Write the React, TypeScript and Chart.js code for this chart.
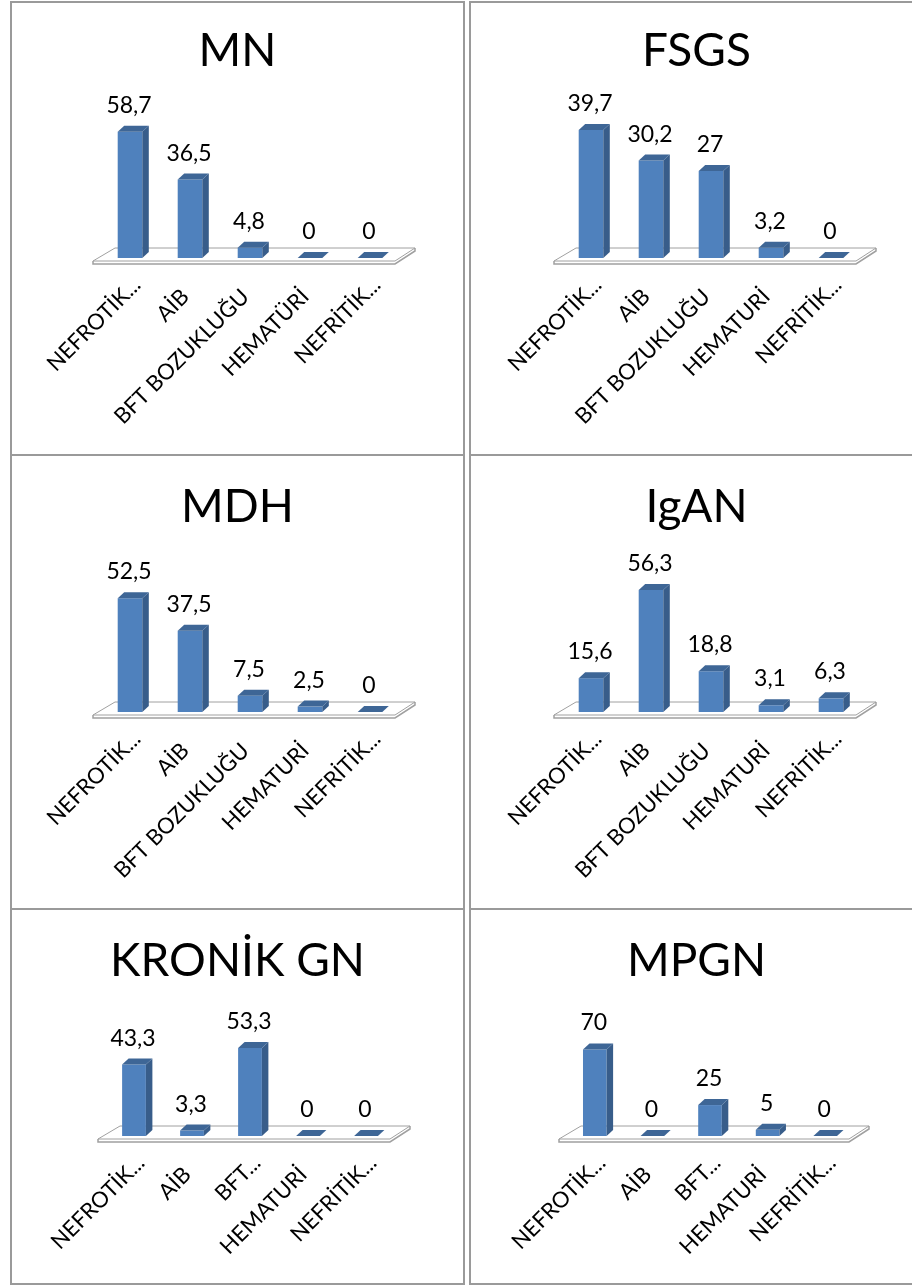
import React, { useEffect, useRef } from 'react';
import { Chart, registerables } from 'chart.js';

Chart.register(...registerables);

// Category labels (full and abbreviated forms)
const labelsMN = ['NEFROTİK...', 'AİB', 'BFT BOZUKLUĞU', 'HEMATÜRİ', 'NEFRİTİK...'];
const labelsLong = ['NEFROTİK...', 'AİB', 'BFT BOZUKLUĞU', 'HEMATURİ', 'NEFRİTİK...'];
const labelsShort = ['NEFROTİK...', 'AİB', 'BFT...', 'HEMATURİ', 'NEFRİTİK...'];

// Presentation percentages for each disease group
const valuesMN = [58.7, 36.5, 4.8, 0, 0];
const valuesFSGS = [39.7, 30.2, 27, 3.2, 0];
const valuesMDH = [52.5, 37.5, 7.5, 2.5, 0];
const valuesIgAN = [15.6, 56.3, 18.8, 3.1, 6.3];
const valuesKronik = [43.3, 3.3, 53.3, 0, 0];
const valuesMPGN = [70, 0, 25, 5, 0];

const titles = ['MN', 'FSGS', 'MDH', 'IgAN', 'KRONİK GN', 'MPGN'];
const axisMax = [60, 40, 60, 60, 60, 80];

const FONT = 'Lato, "Open Sans", sans-serif';
const FRONT = '#4F81BD';
const SIDE = '#385D8A';
const TOP = '#3E6696';
const DX = 6.5;
const DY = 6;

const fmt = (v: number) => String(v).replace('.', ',');

// Truncated labels keep their anchor; complete ones sit one em further back
const tickText = (label: string) => (label.endsWith('...') ? label : label + '\u2003');

// Draws the floor slab, the side/top faces of each bar and the value labels
const bar3d = {
  id: 'bar3d',
  beforeDatasetsDraw(chart: any) {
    const { ctx, chartArea } = chart;
    const { left: L, right: R } = chartArea;
    const y0 = chart.scales.y.getPixelForValue(0);
    ctx.save();
    ctx.strokeStyle = '#A0A0A0';
    ctx.lineWidth = 1;
    ctx.fillStyle = '#ffffff';
    ctx.beginPath();
    ctx.moveTo(L - 7, y0 + 3);
    ctx.lineTo(R - 5, y0 + 3);
    ctx.lineTo(R + 15, y0 - 10);
    ctx.lineTo(L + 15, y0 - 10);
    ctx.closePath();
    ctx.fill();
    ctx.stroke();
    ctx.beginPath();
    ctx.moveTo(L - 7, y0 + 3);
    ctx.lineTo(L - 7, y0 + 6);
    ctx.lineTo(R - 5, y0 + 6);
    ctx.lineTo(R + 15, y0 - 7);
    ctx.lineTo(R + 15, y0 - 10);
    ctx.lineWidth = 1.5;
    ctx.stroke();
    ctx.restore();
  },
  afterDatasetsDraw(chart: any) {
    const { ctx } = chart;
    const meta = chart.getDatasetMeta(0);
    const data = chart.data.datasets[0].data as number[];
    ctx.save();
    meta.data.forEach((el: any, i: number) => {
      const { x, y, base, width } = el.getProps(['x', 'y', 'base', 'width'], true);
      const l = x - width / 2;
      const r = x + width / 2;
      ctx.fillStyle = SIDE;
      ctx.beginPath();
      ctx.moveTo(r, y);
      ctx.lineTo(r + DX, y - DY);
      ctx.lineTo(r + DX, base - DY);
      ctx.lineTo(r, base);
      ctx.closePath();
      ctx.fill();
      ctx.fillStyle = TOP;
      ctx.beginPath();
      ctx.moveTo(l, y);
      ctx.lineTo(l + DX, y - DY);
      ctx.lineTo(r + DX, y - DY);
      ctx.lineTo(r, y);
      ctx.closePath();
      ctx.fill();
      ctx.fillStyle = '#000';
      ctx.font = `23px ${FONT}`;
      ctx.textAlign = 'center';
      ctx.textBaseline = 'alphabetic';
      ctx.fillText(fmt(data[i]), x - 1, y - DY - 13);
    });
    ctx.restore();
  },
};

type Box = { x: number; y: number; w: number; h: number };
type Frame = { pad: number; yW: number; titleTop: number; titleBottom: number; axisH: number };

function Panel(props: {
  title: string;
  labels: string[];
  values: number[];
  max: number;
  box: Box;
  frame: Frame;
}) {
  const { title, labels, values, max, box, frame } = props;
  const ref = useRef<HTMLCanvasElement>(null);
  const cw = box.w - 4;
  const ch = box.h - 4;

  useEffect(() => {
    const chart = new Chart(ref.current as HTMLCanvasElement, {
      type: 'bar',
      data: {
        labels,
        datasets: [
          {
            data: values,
            backgroundColor: FRONT,
            borderWidth: 0,
            barPercentage: 0.41,
            categoryPercentage: 1,
          },
        ],
      },
      options: {
        animation: false,
        responsive: false,
        devicePixelRatio: 1,
        layout: { padding: { left: frame.pad, right: frame.pad, top: 0, bottom: 0 } },
        plugins: {
          legend: { display: false },
          tooltip: { enabled: false },
          title: {
            display: true,
            text: title,
            color: '#000',
            font: { family: FONT, size: 46, weight: 'normal' },
            padding: { top: frame.titleTop, bottom: frame.titleBottom },
          },
        },
        scales: {
          x: {
            grid: { display: false, drawTicks: true, tickLength: 14 },
            border: { display: false },
            ticks: {
              autoSkip: false,
              minRotation: 45,
              maxRotation: 45,
              padding: 0,
              labelOffset: 7,
              color: '#000',
              font: { family: FONT, size: 22 },
              callback: (_v: any, i: number) => tickText(labels[i]),
            },
            afterFit: (s: any) => {
              s.height = frame.axisH;
            },
          },
          y: {
            display: true,
            min: 0,
            max,
            grid: { display: false, drawTicks: false },
            border: { display: false },
            ticks: { display: false },
            afterFit: (s: any) => {
              s.width = frame.yW;
            },
          },
        },
      },
      plugins: [bar3d],
    } as any);
    return () => chart.destroy();
  }, []);

  return (
    <div
      style={{
        position: 'absolute',
        left: box.x,
        top: box.y,
        width: box.w,
        height: box.h,
        boxSizing: 'border-box',
        border: '2px solid #9A9A9A',
        background: '#fff',
      }}
    >
      <canvas ref={ref} width={cw} height={ch} style={{ display: 'block', width: cw, height: ch }} />
    </div>
  );
}

const leftX = 10;
const rightX = 469;
const colW = 455;
const rows = [
  { y: 1, h: 455 },
  { y: 454, h: 456 },
  { y: 908, h: 377 },
];
const frames: Frame[] = [
  { pad: 63, yW: 25, titleTop: 20.4, titleBottom: 50.4, axisH: 196 },
  { pad: 61, yW: 29, titleTop: 20.4, titleBottom: 50.4, axisH: 196 },
  { pad: 63, yW: 25, titleTop: 23.4, titleBottom: 47.4, axisH: 196 },
  { pad: 61, yW: 29, titleTop: 23.4, titleBottom: 47.4, axisH: 196 },
  { pad: 68, yW: 25, titleTop: 23.4, titleBottom: 48.4, axisH: 147 },
  { pad: 68, yW: 27, titleTop: 23.4, titleBottom: 48.4, axisH: 147 },
];

const panelLabels = [labelsMN, labelsLong, labelsLong, labelsLong, labelsShort, labelsShort];
const panelValues = [valuesMN, valuesFSGS, valuesMDH, valuesIgAN, valuesKronik, valuesMPGN];

export default function App() {
  return (
    <div
      style={{
        position: 'absolute',
        left: 0,
        top: 0,
        width: 912,
        height: 1288,
        overflow: 'hidden',
        background: '#fff',
      }}
    >
      {titles.map((t, i) => {
        const row = rows[Math.floor(i / 2)];
        const box = { x: i % 2 === 0 ? leftX : rightX, y: row.y, w: colW, h: row.h };
        return (
          <Panel
            key={t}
            title={t}
            labels={panelLabels[i]}
            values={panelValues[i]}
            max={axisMax[i]}
            box={box}
            frame={frames[i]}
          />
        );
      })}
    </div>
  );
}
